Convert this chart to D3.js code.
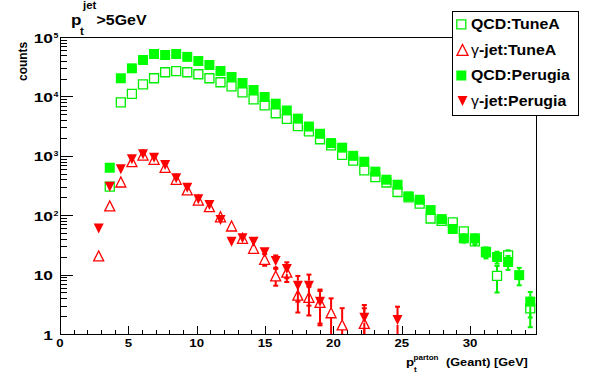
<!DOCTYPE html>
<html>
<head>
<meta charset="utf-8">
<script src="https://cdn.jsdelivr.net/npm/d3@7"></script>
<style>
  body { margin: 0; background: #fff; }
  text { font-family: "Liberation Sans", Arial, Helvetica, sans-serif; font-weight: bold; fill: #000; }
</style>
</head>
<body>
<div id="chart"></div>
<script>
// bin centres of the p_t^parton histogram [GeV]
const binCenters = [2.83, 3.64, 4.45, 5.26, 6.07, 6.88, 7.69, 8.50, 9.31, 10.12,
  10.93, 11.74, 12.55, 13.35, 14.16, 14.97, 15.78, 16.59, 17.40, 18.21,
  19.02, 19.83, 20.64, 21.45, 22.26, 23.07, 23.88, 24.69, 25.50, 26.31,
  27.11, 27.92, 28.73, 29.54, 30.35, 31.16, 31.97, 32.78, 33.59, 34.40];

// QCD:TuneA (open green squares)
const qcdTuneA = [null, 302, 7960, 11000, 16000, 20200, 25500, 26600, 25500, 23600,
  20200, 17300, 14800, 11700, 8940, 7080, 5200, 4200, 3150, 2580,
  1900, 1500, 1040, 827, 570, 436, 355, 246, 200, 157,
  88, 80, 76, 53.6, 36.3, 24, 9.5, 21.1, null, 2.7];
const qcdTuneAErr = [0, 0, 0, 0, 0, 0, 0, 0, 0, 0,
  0, 0, 0, 0, 0, 0, 0, 0, 0, 0,
  0, 0, 0, 0, 0, 0, 0, 0, 0, 0,
  0, 0, 0, 0, 4, 4, 4.5, 4.5, 0, 1.4];

// gamma-jet:TuneA (open red triangles)
const gjetTuneA = [20.6, 143, 362, 795, 1030, 873, 640, 402, 266, 180,
  139, 94, 65.8, 40.8, 27.7, 18.1, 9.5, 11, 4.5, 4.15,
  3.4, 2.28, 1.42, null, 1.51, null, null, null, null, null,
  null, null, null, null, null, null, null, null, null, null];
const gjetTuneAErr = [0, 0, 0, 0, 0, 0, 0, 0, 0, 0,
  0, 0, 0, 0, 0, 4, 3, 3.5, 2.2, 2.1,
  1.9, 1.7, 1.3, 0, 1.2, 0, 0, 0, 0, 0,
  0, 0, 0, 0, 0, 0, 0, 0, 0, 0];

// QCD:Perugia (filled green squares)
const qcdPerugia = [null, 630, 20200, 29700, 41000, 51800, 49800, 51800, 46300, 39400,
  33800, 26800, 21200, 16800, 12800, 9780, 7540, 5790, 4220, 3110,
  2350, 1640, 1370, 1000, 795, 541, 396, 326, 208, 182,
  122, 86, 58.6, 40.8, 40.8, 23.7, 19.8, 16.3, 9.8, 3.5];
const qcdPerugiaErr = [0, 0, 0, 0, 0, 0, 0, 0, 0, 0,
  0, 0, 0, 0, 0, 0, 0, 0, 0, 0,
  0, 0, 0, 0, 0, 0, 0, 0, 0, 0,
  0, 0, 0, 6, 6, 5, 4.5, 4.3, 3.2, 1.6];

// gamma-jet:Perugia (filled red triangles)
const gjetPerugia = [60, 302, 593, 873, 1060, 929, 700, 418, 290, 185,
  149, 83, 35.8, 40.8, 35.8, 23.7, 17, 12.4, 6.5, 6.5,
  3.5, null, null, null, 1.88, null, null, 1.72, null, null,
  null, null, null, null, null, null, null, null, null, null];
const gjetPerugiaErr = [0, 0, 0, 0, 0, 0, 0, 0, 0, 0,
  0, 0, 0, 0, 0, 0, 4, 3.7, 3, 3.5,
  2.1, 0, 0, 0, 1.2, 0, 0, 1.16, 0, 0,
  0, 0, 0, 0, 0, 0, 0, 0, 0, 0];

const legendLabels = [["", "QCD:TuneA"], ["γ", "-jet:TuneA"], ["", "QCD:Perugia"], ["γ", "-jet:Perugia"]];
const xMajorTicks = [0, 5, 10, 15, 20, 25, 30];
const xTickLabels = ["0", "5", "10", "15", "20", "25", "30"];
const yTickValues = [1, 10, 100, 1000, 10000, 100000];
const yTickLabels = ["1", "10", "10^2", "10^3", "10^4", "10^5"];

//Set width and height of the chart
const W = 596, H = 372;
const margin = { top: 37, right: 60, bottom: 38, left: 60 },
  width = W - margin.left - margin.right,
  height = H - margin.top - margin.bottom;

const x = d3.scaleLinear().domain([0, 34.82]).range([0, width]);
const y = d3.scaleLog().domain([1, 1e5]).range([height, 0]);

const svg = d3.select("#chart").append("svg").attr("width", W).attr("height", H);
svg.append("defs").append("clipPath").attr("id", "plotClip")
  .append("rect").attr("width", width).attr("height", height);

const g = svg.append("g").attr("transform", "translate(" + margin.left + "," + margin.top + ")");

// text squeezed like the original canvas (wider than tall)
function stretchText(parent, px, py, sx, size, anchor, str) {
  return parent.append("g")
    .attr("transform", "translate(" + px + "," + py + ") scale(" + sx + ",1)")
    .append("text")
    .attr("text-anchor", anchor)
    .style("font-size", size + "px")
    .text(str);
}

function markerPath(shape, s) {
  const h = s / 2;
  if (shape === "square") return "M" + -h + "," + -h + "H" + h + "V" + h + "H" + -h + "Z";
  if (shape === "up") return "M" + -h + "," + h + "H" + h + "L0," + -h + "Z";
  return "M" + -h + "," + -h + "H" + h + "L0," + h + "Z";
}

//------------------------------------------------------------------------------------->
// frame
g.append("rect").attr("width", width).attr("height", height)
  .attr("fill", "none").attr("stroke", "#000").attr("shape-rendering", "crispEdges");

// x axis: major + minor ticks pointing inwards
const xMinor = d3.range(1, 35).filter(v => v % 5 !== 0);
g.append("g").attr("transform", "translate(0," + height + ")")
  .call(d3.axisBottom(x).tickValues(xMajorTicks).tickSize(-8).tickSizeOuter(0).tickFormat(""))
  .call(a => a.selectAll("line,path").attr("stroke", "#000").attr("shape-rendering", "crispEdges"));
g.append("g").attr("transform", "translate(0," + height + ")")
  .call(d3.axisBottom(x).tickValues(xMinor).tickSize(-4).tickSizeOuter(0).tickFormat(""))
  .call(a => a.select(".domain").remove())
  .call(a => a.selectAll("line").attr("stroke", "#000").attr("shape-rendering", "crispEdges"));

xMajorTicks.forEach((t, i) => {
  stretchText(g, x(t), height + 12.7, 1.14, 11.6, "middle", xTickLabels[i]);
});

// y axis: decades + minor ticks
const yMinor = [];
yTickValues.slice(0, -1).forEach(d => { for (let k = 2; k <= 9; k++) yMinor.push(d * k); });
g.append("g")
  .call(d3.axisLeft(y).tickValues(yTickValues).tickSize(-13).tickSizeOuter(0).tickFormat(""))
  .call(a => a.selectAll("line,path").attr("stroke", "#000").attr("shape-rendering", "crispEdges"));
g.append("g")
  .call(d3.axisLeft(y).tickValues(yMinor).tickSize(-7).tickSizeOuter(0).tickFormat(""))
  .call(a => a.select(".domain").remove())
  .call(a => a.selectAll("line").attr("stroke", "#000").attr("shape-rendering", "crispEdges"));

yTickValues.forEach((t, i) => {
  const parts = yTickLabels[i].split("^");
  stretchText(g, -7, y(t) + 5.5, 1.45, 12, "end", parts[0]);
  if (parts[1]) stretchText(g, -6.5, y(t) + 0.5, 1.1, 8, "start", parts[1]);
});

//------------------------------------------------------------------------------------->
// series, drawn in the original order
const series = [
  { values: qcdTuneA, errors: qcdTuneAErr, color: "#00ee00", shape: "square", filled: false },
  { values: gjetTuneA, errors: gjetTuneAErr, color: "#ff0000", shape: "up", filled: false },
  { values: qcdPerugia, errors: qcdPerugiaErr, color: "#00ff00", shape: "square", filled: true },
  { values: gjetPerugia, errors: gjetPerugiaErr, color: "#ff0000", shape: "down", filled: true }
];
series.forEach((s, k) => { s.label = legendLabels[k]; });

const half = 5;
series.forEach(s => {
  const pts = binCenters
    .map((xv, i) => ({ x: xv, v: s.values[i], e: s.errors[i] }))
    .filter(d => d.v != null);

  const eg = g.append("g").attr("clip-path", "url(#plotClip)")
    .attr("stroke", s.color).attr("stroke-width", 2);
  const withErr = pts.filter(d => d.e > 0);

  // upper and lower error bar, outside the marker
  eg.selectAll("line.up").data(withErr).join("line").attr("class", "up")
    .attr("x1", d => x(d.x)).attr("x2", d => x(d.x))
    .attr("y1", d => y(d.v + d.e)).attr("y2", d => y(d.v) - half);
  eg.selectAll("line.lo").data(withErr).join("line").attr("class", "lo")
    .attr("x1", d => x(d.x)).attr("x2", d => x(d.x))
    .attr("y1", d => y(d.v) + half)
    .attr("y2", d => (d.v - d.e > 1 ? y(d.v - d.e) : height + 2));
  eg.selectAll("line.capu").data(withErr).join("line").attr("class", "capu")
    .attr("x1", d => x(d.x) - 2.5).attr("x2", d => x(d.x) + 2.5)
    .attr("y1", d => y(d.v + d.e)).attr("y2", d => y(d.v + d.e));
  eg.selectAll("line.capl").data(withErr.filter(d => d.v - d.e > 1)).join("line").attr("class", "capl")
    .attr("x1", d => x(d.x) - 2.5).attr("x2", d => x(d.x) + 2.5)
    .attr("y1", d => y(d.v - d.e)).attr("y2", d => y(d.v - d.e));

  g.append("g").selectAll("path").data(pts).join("path")
    .attr("transform", d => "translate(" + x(d.x) + "," + y(d.v) + ")")
    .attr("d", markerPath(s.shape, s.filled ? 10 : (s.shape === "square" ? 9 : 10)))
    .attr("fill", s.filled ? s.color : "none")
    .attr("stroke", s.filled ? "none" : s.color)
    .attr("stroke-width", 1.3);
});

//------------------------------------------------------------------------------------->
// legend
const lg = svg.append("g");
lg.append("rect").attr("x", 452.5).attr("y", 11.5).attr("width", 126).attr("height", 103.5)
  .attr("fill", "#fff").attr("stroke", "#000").attr("shape-rendering", "crispEdges");
series.forEach((s, k) => {
  const cy = 24.3 + k * 25.6;
  lg.append("path")
    .attr("transform", "translate(" + (s.shape === "square" ? 461.3 : 462.5) + "," + cy + ")")
    .attr("d", markerPath(s.shape, s.filled ? 10 : (s.shape === "square" ? 9 : 11)))
    .attr("fill", s.filled ? s.color : "none")
    .attr("stroke", s.filled ? "none" : s.color)
    .attr("stroke-width", 1.3);
  const t = lg.append("g")
    .attr("transform", "translate(471," + (cy + 4.8) + ") scale(1.06,1)")
    .append("text").style("font-size", "15px");
  if (s.label[0]) t.append("tspan").style("font-weight", "normal").text(s.label[0]);
  t.append("tspan").text(s.label[1]);
});

//------------------------------------------------------------------------------------->
// title p_t^jet > 5GeV
stretchText(svg, 71, 25, 1.14, 15, "start", "p");
stretchText(svg, 80, 35, 1.14, 10, "start", "t");
stretchText(svg, 83, 9, 1.14, 10, "start", "jet");
stretchText(svg, 96.5, 25, 1.14, 14, "start", ">5GeV");

// axis titles
svg.append("text")
  .attr("transform", "translate(26.7,41.7) rotate(-90)")
  .attr("text-anchor", "end")
  .style("font-size", "12px")
  .text("counts");

stretchText(svg, 406, 365.7, 1.15, 11.5, "start", "p");
stretchText(svg, 413.5, 359.5, 1.15, 7, "start", "parton");
stretchText(svg, 414, 371.5, 1.15, 7, "start", "t");
stretchText(svg, 446, 365.7, 1.155, 11, "start", "(Geant) [GeV]");
</script>
</body>
</html>
